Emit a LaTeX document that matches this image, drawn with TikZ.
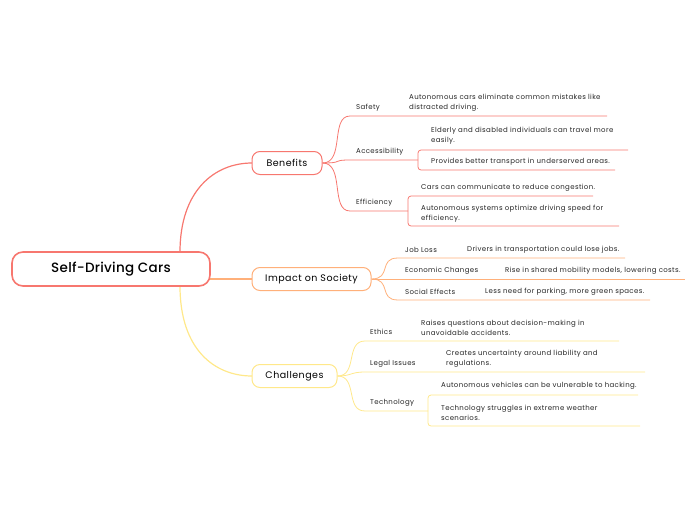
\documentclass[tikz,border=0pt]{standalone}
\usepackage{fontspec}
\setmainfont{Poppins}[LetterSpace=5]
\newfontfamily\titlefont{Poppins Medium}[LetterSpace=2]
\begin{document}
\begin{tikzpicture}[x=1pt,y=-1pt,
  lbl/.style={anchor=west,inner sep=0pt,font=\fontsize{7}{10}\selectfont,text=black!85,align=left},
  topic/.style={draw=#1,line width=1pt,rounded corners=8pt,minimum height=23pt,inner sep=0pt,font=\fontsize{9.5}{11}\selectfont,fill=white},
  br/.style={draw=#1,line width=0.8pt},
  thick br/.style={draw=#1,line width=1.2pt}]
\definecolor{cred}{HTML}{F7776F}
\definecolor{cora}{HTML}{FFB07A}
\definecolor{cyel}{HTML}{FFE88A}
\useasboundingbox (0,0) rectangle (697,520);
% main connectors
\coordinate (rt) at (180,252);
\coordinate (rb) at (180,286);
\draw[thick br=cred] (rt) .. controls (180,190) and (215,163) .. (252,163);
\draw[thick br=cora] (210,279) -- (252,279);
\draw[thick br=cyel] (rb) .. controls (180,350) and (215,376) .. (252,376);
\node[draw=cred,line width=1.6pt,rounded corners=11pt,minimum width=198pt,minimum height=34pt,fill=white,font=\titlefont\fontsize{13.5}{15}\selectfont] (root) at (111,269) {Self-Driving Cars};
\node[topic=cred,minimum width=70pt] (ben) at (287,163) {Benefits};
\node[topic=cora,minimum width=119pt] (imp) at (311.5,279) {Impact on Society};
\node[topic=cyel,minimum width=85pt] (cha) at (294.5,376) {Challenges};
% Benefits
\begin{scope}[br=cred]
\draw (ben.east) .. controls (345,163) and (330,116) .. (350,116) -- (607,116);
\draw (ben.east) .. controls (345,163) and (330,160) .. (350,160) -- (418,160);
\draw (ben.east) .. controls (345,163) and (330,211) .. (350,211) -- (408,211);
\draw (628,150) -- (422,150) [rounded corners=3pt] -- (418,150) -- (418,170) -- (615,170);
\draw (593,196) -- (412,196) [rounded corners=3pt] -- (408,196) -- (408,226) -- (619,226);
\end{scope}
\node[lbl] (s1) at (356,108) {Safety};
\node[lbl] (s1d) at (409,103) {Autonomous cars eliminate common mistakes like\\distracted driving.};
\node[lbl] (s2) at (356,152) {Accessibility};
\node[lbl] (s2a) at (431,136) {Elderly and disabled individuals can travel more\\easily.};
\node[lbl] (s2b) at (431,162) {Provides better transport in underserved areas.};
\node[lbl] (s3) at (356,203) {Efficiency};
\node[lbl] (s3a) at (421,188) {Cars can communicate to reduce congestion.};
\node[lbl] (s3b) at (421,214) {Autonomous systems optimize driving speed for\\efficiency.};
% Impact
\begin{scope}[br=cora]
\draw (imp.east) .. controls (392,279) and (378,258) .. (398,258) -- (625,258);
\draw (imp.east) -- (685,279);
\draw (imp.east) .. controls (392,279) and (378,300) .. (398,300) -- (650,300);
\end{scope}
\node[lbl] (i1) at (405,250) {Job Loss};
\node[lbl] (i1d) at (467,250) {Drivers in transportation could lose jobs.};
\node[lbl] (i2) at (405,271) {Economic Changes};
\node[lbl] (i2d) at (505,271) {Rise in shared mobility models, lowering costs.};
\node[lbl] (i3) at (405,292) {Social Effects};
\node[lbl] (i3d) at (485,292) {Less need for parking, more green spaces.};
% Challenges
\begin{scope}[br=cyel]
\draw (cha.east) .. controls (358,376) and (345,341) .. (365,341) -- (619,341);
\draw (cha.east) .. controls (352,376) and (350,372) .. (365,372) -- (645,372);
\draw (cha.east) .. controls (358,376) and (345,411) .. (365,411) -- (428,411);
\draw (638,395) -- (432,395) [rounded corners=3pt] -- (428,395) -- (428,426) -- (640,426);
\end{scope}
\node[lbl] (c1) at (370,332) {Ethics};
\node[lbl] (c1d) at (421,328) {Raises questions about decision-making in\\unavoidable accidents.};
\node[lbl] (c2) at (370,364) {Legal Issues};
\node[lbl] (c2d) at (446,359) {Creates uncertainty around liability and\\regulations.};
\node[lbl] (c3) at (370,403) {Technology};
\node[lbl] (c3a) at (441,386) {Autonomous vehicles can be vulnerable to hacking.};
\node[lbl] (c3b) at (441,413) {Technology struggles in extreme weather\\scenarios.};
\end{tikzpicture}
\end{document}
